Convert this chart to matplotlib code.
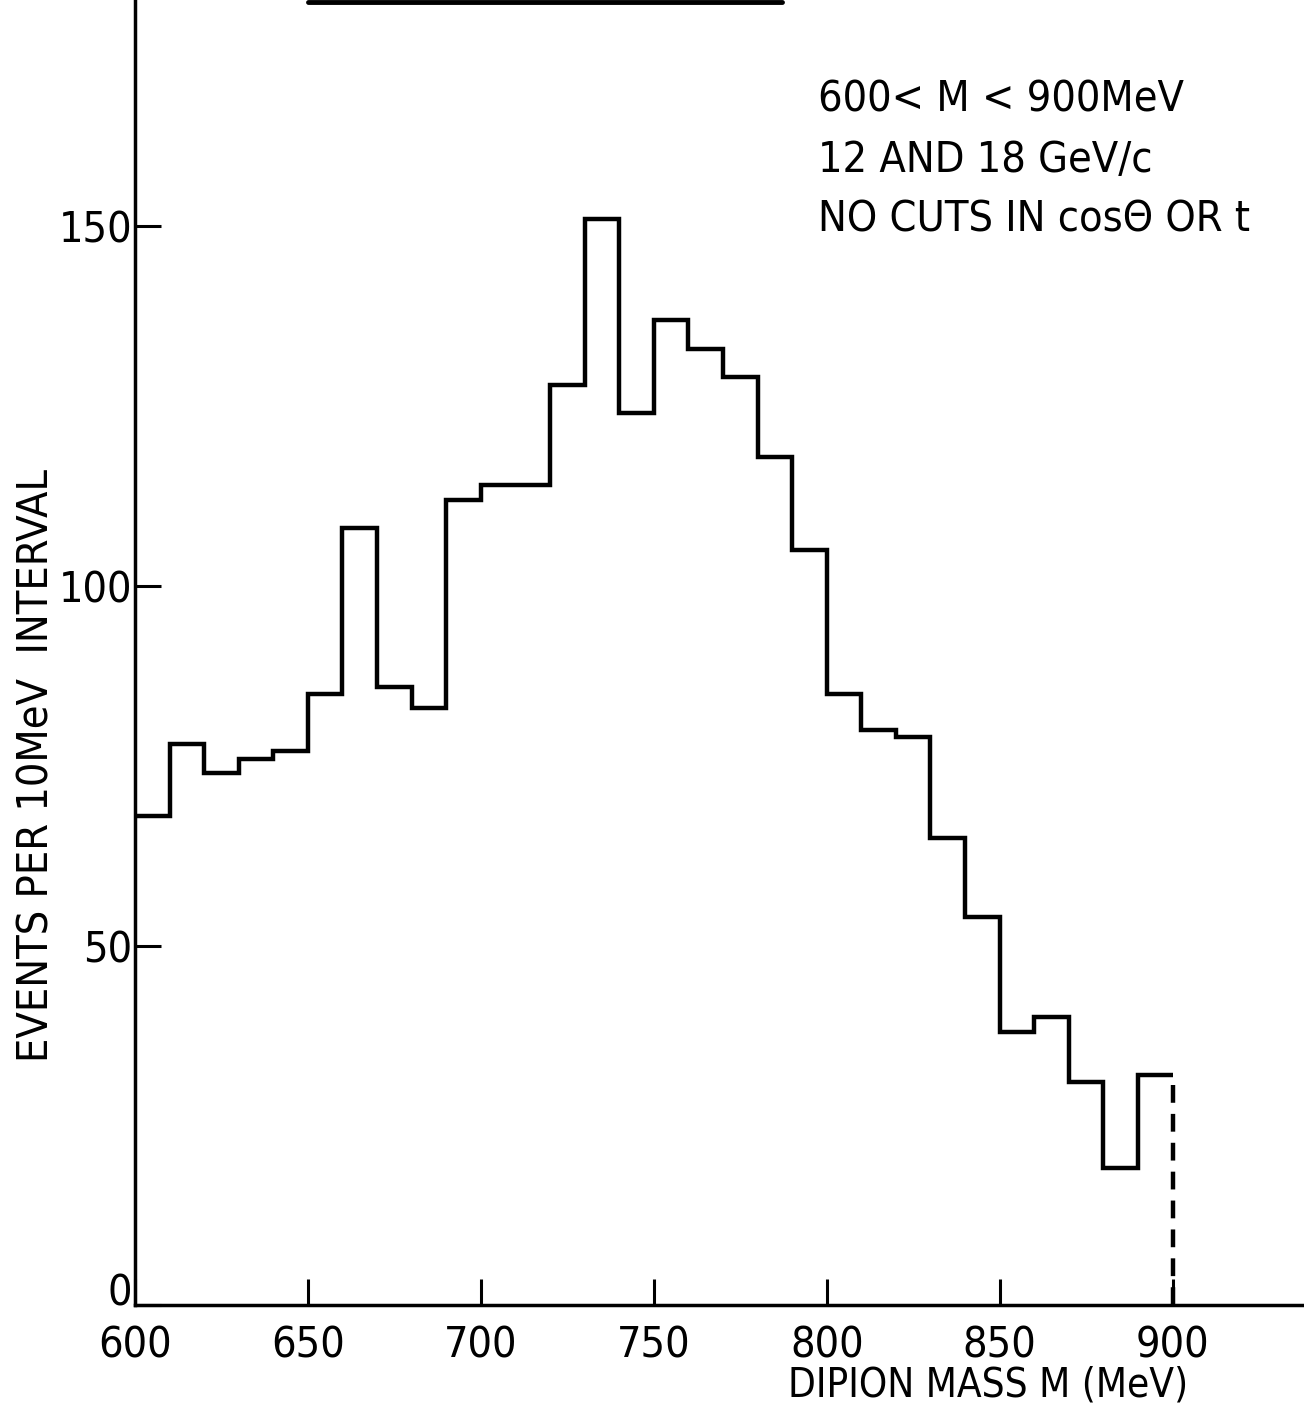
import numpy as np
import matplotlib
matplotlib.use("Agg")
import matplotlib.pyplot as plt

# dipion mass histogram, 10 MeV bins from 600 to 900
edges = np.arange(600, 901, 10)
counts = [68, 78, 74, 76, 77, 85, 108, 86, 83, 112,
          114, 114, 128, 151, 124, 137, 133, 129, 118, 105,
          85, 80, 79, 65, 54, 38, 40, 31, 19, 32]

xticks = [600, 650, 700, 750, 800, 850, 900]
yticks = [0, 50, 100, 150]

plt.rcParams['font.family'] = ['DejaVu Sans']
plt.rcParams['font.stretch'] = 'condensed'
fs = 31

fig = plt.figure(figsize=(13.04, 14.11), dpi=100)
ax = fig.add_axes([0.1035, 0.0751, 0.8965, 0.9249])

ax.stairs(counts, edges, baseline=None, color='black', linewidth=3.2)
# dashed closing line at the upper edge
ax.vlines(900, 0, counts[-1], colors='black', linestyles=(0, (4, 2.5)), linewidth=3.2)
# bar at top of frame
ax.plot([650, 787], [181.2, 181.2], color='black', linewidth=3.5, clip_on=False,
        solid_capstyle='round')

ax.set_xlim(600, 938)
ax.set_ylim(0, 181.5)
ax.spines['top'].set_visible(False)
ax.spines['right'].set_visible(False)
ax.spines['left'].set_linewidth(2.5)
ax.spines['bottom'].set_linewidth(2.5)

ax.set_xticks(xticks)
ax.set_yticks(yticks)
ax.tick_params(axis='both', direction='in', length=19, width=2.2, labelsize=fs)
ax.tick_params(axis='x', pad=14)
ax.tick_params(axis='y', pad=2)
ax.get_yticklabels()[0].set_va('baseline')

fig.text(988/1304, 1 - 1385/1411, 'DIPION MASS M (MeV)', fontsize=29,
         ha='center', va='center')
fig.text(37/1304, 1 - 765/1411, 'EVENTS PER 10MeV  INTERVAL', fontsize=fs,
         ha='center', va='center', rotation=90)

for txt, ypx in [('600< M < 900MeV', 100),
                 ('12 AND 18 GeV/c', 160),
                 ('NO CUTS IN cos\u0398 OR t', 220)]:
    fig.text(818/1304, 1 - ypx/1411, txt, fontsize=fs, ha='left', va='center')

fig.savefig('out.png', dpi=100)
